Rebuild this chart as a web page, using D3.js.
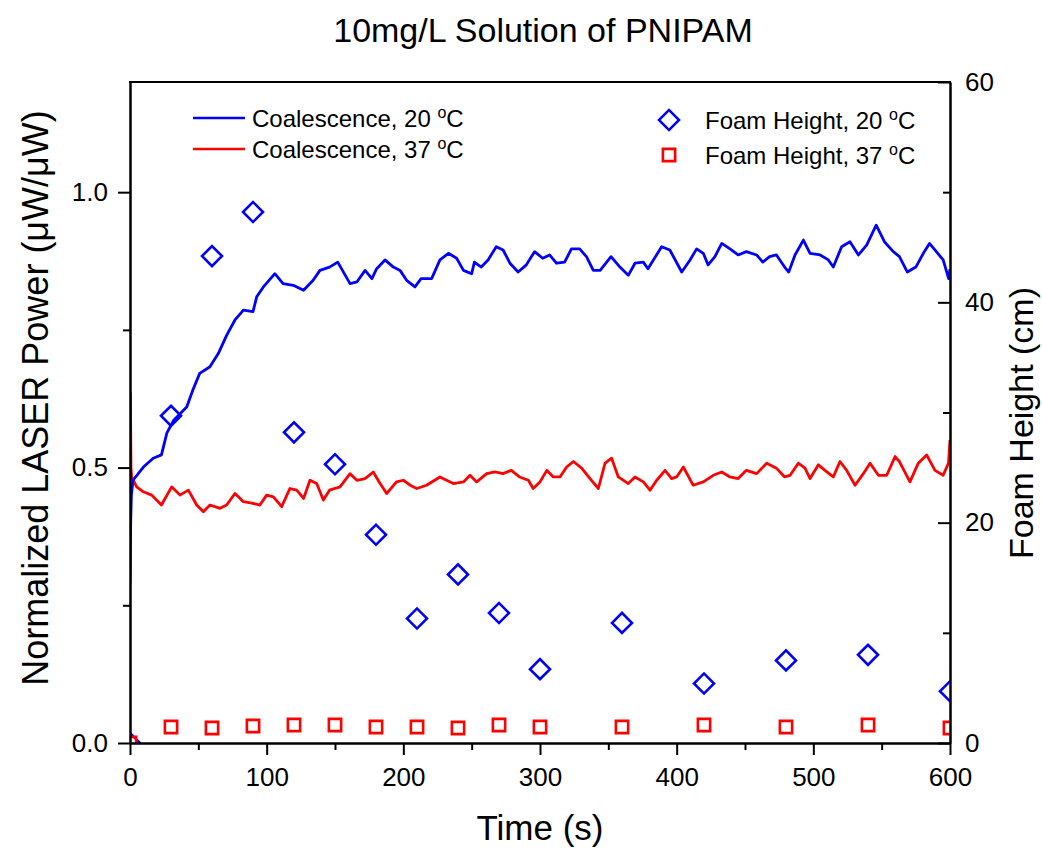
<!DOCTYPE html>
<html>
<head>
<meta charset="utf-8">
<script src="https://cdn.jsdelivr.net/npm/d3@7"></script>
<style>
  body { margin: 0; background: #fff; }
  svg text { font-family: Arial, "Liberation Sans", sans-serif; fill: #000; }
</style>
</head>
<body>
<svg id="mainSvg" width="1042" height="848"></svg>
<script>
// coalescence signal, [time (s), normalized power]
var coal20 = [
  [0,0.29],[0.5,0.40],[1,0.45],[2.2,0.477],[9.8,0.501],[17,0.517],[23,0.523],[27,0.563],[32,0.586],
  [41.5,0.610],[46,0.641],[51,0.671],[58.5,0.683],[64.6,0.707],[70.7,0.740],[76.8,0.768],[83,0.786],
  [90,0.783],[92.7,0.810],[97.6,0.828],[106,0.852],[112,0.834],[119.5,0.831],[127,0.822],[134,0.840],
  [139,0.858],[146,0.864],[152,0.873],[161,0.834],[166,0.837],[172,0.858],[177,0.843],[180.5,0.861],
  [186.6,0.877],[192.7,0.864],[197.6,0.858],[202.4,0.840],[208.5,0.828],[213,0.843],[220.7,0.843],
  [226.8,0.877],[233,0.889],[239,0.880],[244,0.858],[250,0.852],[252,0.873],[257,0.864],[262,0.877],
  [268,0.901],[273,0.895],[278,0.871],[284,0.855],[290,0.868],[296,0.892],[302,0.880],[307,0.886],
  [312,0.871],[318,0.873],[323,0.897],[329,0.897],[334,0.883],[339,0.858],[344,0.858],[352,0.883],
  [358.5,0.864],[364.6,0.849],[369.5,0.871],[375.6,0.873],[379,0.861],[389,0.901],[395,0.895],
  [403.7,0.855],[409.8,0.877],[414.6,0.897],[419.5,0.889],[423,0.868],[428,0.883],[433,0.907],
  [439,0.897],[445,0.886],[451,0.892],[458.5,0.886],[463,0.873],[468,0.883],[473,0.886],[479,0.864],
  [482,0.855],[486.6,0.886],[492.7,0.913],[497.6,0.889],[505,0.886],[511,0.877],[514.6,0.864],
  [520.7,0.901],[526.8,0.910],[533,0.886],[539,0.904],[546,0.940],[552,0.910],[558.5,0.892],
  [563,0.883],[568.8,0.855],[575,0.864],[580.5,0.889],[585,0.907],[590,0.892],[595,0.877],
  [599,0.843],[600,0.86]
];

var coal37 = [
  [0,0.48],[0.3,0.635],[0.7,0.50],[1.2,0.483],[4.9,0.465],[9.8,0.456],[15.9,0.450],[23,0.432],
  [30.5,0.465],[36.6,0.450],[42.7,0.459],[48.8,0.432],[53.7,0.420],[58.5,0.432],[65.9,0.426],
  [70.7,0.432],[76.8,0.453],[83,0.438],[90,0.435],[95,0.432],[100,0.450],[104.9,0.447],[111,0.429],
  [117,0.462],[122,0.459],[127,0.444],[131.7,0.477],[136.6,0.471],[141.5,0.441],[146,0.459],
  [153.7,0.465],[161,0.489],[166,0.477],[172,0.480],[178,0.492],[183,0.471],[187.8,0.453],
  [195,0.474],[200,0.477],[205,0.468],[209.8,0.462],[217,0.468],[226.8,0.483],[236.6,0.471],
  [244,0.474],[248.8,0.486],[253.7,0.474],[261,0.489],[267,0.492],[273,0.489],[279,0.495],
  [285,0.483],[291.5,0.477],[295,0.462],[300,0.474],[305,0.495],[309.7,0.483],[314.6,0.483],
  [319.5,0.501],[324.4,0.511],[330.5,0.499],[336.6,0.480],[342.7,0.462],[347.6,0.508],[352.4,0.517],
  [357.3,0.483],[364.6,0.471],[369.5,0.483],[375.6,0.474],[380.5,0.459],[385.4,0.477],[391.5,0.495],
  [396.3,0.480],[400,0.483],[404.9,0.501],[412,0.468],[419.5,0.474],[426.8,0.486],[433,0.492],
  [439,0.483],[445,0.480],[451,0.495],[458.5,0.489],[465.9,0.508],[473,0.499],[479,0.483],
  [483,0.486],[489,0.508],[493.9,0.499],[497.6,0.480],[503.7,0.505],[508.5,0.495],[514.6,0.483],
  [519.5,0.511],[524.4,0.495],[530.5,0.468],[536.6,0.489],[541.5,0.508],[547.6,0.486],[553.7,0.486],
  [559.8,0.520],[563,0.511],[570.7,0.474],[576.8,0.508],[582.9,0.523],[589,0.495],[595,0.486],
  [598.9,0.508],[600,0.55]
];

// foam height (cm)
var foamTimes = [0,30,60,90,120,150,180,210,240,270,300,360,420,480,540,600];
var foam20 = [0,29.7,44.2,48.2,28.2,25.3,18.9,11.3,15.3,11.8,6.7,10.9,5.4,7.5,8.0,4.7];
var foam37 = [0,1.45,1.36,1.54,1.63,1.63,1.45,1.45,1.36,1.63,1.45,1.45,1.63,1.45,1.63,1.36];

var xTicks = [0,100,200,300,400,500,600];
var xMinor = [50,150,250,350,450,550];
var yLeftTicks = [0,0.5,1.0];
var yLeftMinor = [0.25,0.75];
var yRightTicks = [0,20,40,60];
var yRightMinor = [10,30,50];

var plotLeft = 130, plotRight = 950, plotTop = 82, plotBottom = 743;

var svg = d3.select("#mainSvg");

var x = d3.scaleLinear().domain([0,600]).range([plotLeft,plotRight]);
var yL = d3.scaleLinear().domain([0,1.2]).range([plotBottom,plotTop]);
var yR = d3.scaleLinear().domain([0,60]).range([plotBottom,plotTop]);

svg.append("defs").append("clipPath").attr("id","plotClip")
  .append("rect")
  .attr("x",plotLeft).attr("y",plotTop)
  .attr("width",plotRight-plotLeft).attr("height",plotBottom-plotTop);

var plot = svg.append("g").attr("clip-path","url(#plotClip)");

var line = d3.line()
  .x(function(d){ return x(d[0]); })
  .y(function(d){ return yL(d[1]); });

plot.append("path").datum(coal37)
  .attr("d",line).attr("fill","none")
  .attr("stroke","#ff0000").attr("stroke-width",2.8).attr("stroke-linejoin","round");

plot.append("path").datum(coal20)
  .attr("d",line).attr("fill","none")
  .attr("stroke","#0000ff").attr("stroke-width",2.8).attr("stroke-linejoin","round");

var diamond = d3.symbol().type(d3.symbolSquare).size(200);
var square = d3.symbol().type(d3.symbolSquare).size(150);

plot.selectAll(".foam20")
  .data(foamTimes)
  .enter().append("path")
  .attr("class","foam20")
  .attr("d",diamond)
  .attr("transform",function(d,i){ return "translate(" + x(d) + "," + yR(foam20[i]) + ") rotate(45)"; })
  .attr("fill","none").attr("stroke","#0000ff").attr("stroke-width",2.6);

plot.selectAll(".foam37")
  .data(foamTimes)
  .enter().append("path")
  .attr("class","foam37")
  .attr("d",square)
  .attr("transform",function(d,i){ return "translate(" + x(d) + "," + yR(foam37[i]) + ")"; })
  .attr("fill","none").attr("stroke","#ff0000").attr("stroke-width",2.6);

// axes
function styleAxis(g){
  g.select(".domain").attr("stroke","#000").attr("stroke-width",2);
  g.selectAll(".tick line").attr("stroke","#000").attr("stroke-width",2);
  g.selectAll("text").style("font-size","26px").attr("fill","#000");
}

svg.append("g")
  .attr("transform","translate(0," + plotBottom + ")")
  .call(d3.axisBottom(x).tickValues(xMinor).tickSize(7).tickFormat("").tickSizeOuter(0))
  .call(styleAxis);
svg.append("g")
  .attr("transform","translate(0," + plotBottom + ")")
  .call(d3.axisBottom(x).tickValues(xTicks).tickSize(12).tickPadding(13).tickSizeOuter(0))
  .call(styleAxis);

svg.append("g")
  .attr("transform","translate(" + plotLeft + ",0)")
  .call(d3.axisLeft(yL).tickValues(yLeftMinor).tickSize(7).tickFormat("").tickSizeOuter(0))
  .call(styleAxis);
svg.append("g")
  .attr("transform","translate(" + plotLeft + ",0)")
  .call(d3.axisLeft(yL).tickValues(yLeftTicks).tickSize(12).tickPadding(10).tickFormat(d3.format(".1f")).tickSizeOuter(0))
  .call(styleAxis);

svg.append("g")
  .attr("transform","translate(" + plotRight + ",0)")
  .call(d3.axisRight(yR).tickValues(yRightMinor).tickSize(-7).tickFormat("").tickSizeOuter(0))
  .call(styleAxis);
svg.append("g")
  .attr("transform","translate(" + plotRight + ",0)")
  .call(d3.axisRight(yR).tickValues(yRightTicks).tickSize(-12).tickPadding(15).tickSizeOuter(0))
  .call(styleAxis);

svg.append("line")
  .attr("x1",plotLeft-1).attr("x2",plotRight+1).attr("y1",plotTop).attr("y2",plotTop)
  .attr("stroke","#000").attr("stroke-width",2);

// titles
svg.append("text")
  .attr("x",543).attr("y",42)
  .attr("text-anchor","middle").style("font-size","34px")
  .text("10mg/L Solution of PNIPAM");

svg.append("text")
  .attr("x",540).attr("y",840)
  .attr("text-anchor","middle").style("font-size","35px")
  .text("Time (s)");

svg.append("text")
  .attr("transform","translate(48,398) rotate(-90)")
  .attr("text-anchor","middle").style("font-size","36px")
  .text("Normalized LASER Power (\u03bcW/\u03bcW)");

svg.append("text")
  .attr("transform","translate(1033,423) rotate(-90)")
  .attr("text-anchor","middle").style("font-size","34px")
  .text("Foam Height (cm)");

// legend
function legendText(x0, y0, label, temp){
  var t = svg.append("text").attr("x",x0).attr("y",y0).style("font-size","24px");
  t.append("tspan").text(label + ", " + temp + " ");
  t.append("tspan").attr("dy",-9).style("font-size","16px").text("o");
  t.append("tspan").attr("dy",9).text("C");
}

var lineLegend = [
  {label:"Coalescence", temp:"20", color:"#0000ff", y:118},
  {label:"Coalescence", temp:"37", color:"#ff0000", y:149}
];
lineLegend.forEach(function(d){
  svg.append("line")
    .attr("x1",193).attr("x2",245).attr("y1",d.y).attr("y2",d.y)
    .attr("stroke",d.color).attr("stroke-width",2.4);
  legendText(252, d.y + 8.5, d.label, d.temp);
});

svg.append("path").attr("d",diamond)
  .attr("transform","translate(669,120) rotate(45)")
  .attr("fill","none").attr("stroke","#0000ff").attr("stroke-width",2.6);
legendText(705, 128.5, "Foam Height", "20");

svg.append("path").attr("d",square)
  .attr("transform","translate(669,155)")
  .attr("fill","none").attr("stroke","#ff0000").attr("stroke-width",2.6);
legendText(705, 163.5, "Foam Height", "37");
</script>
</body>
</html>
